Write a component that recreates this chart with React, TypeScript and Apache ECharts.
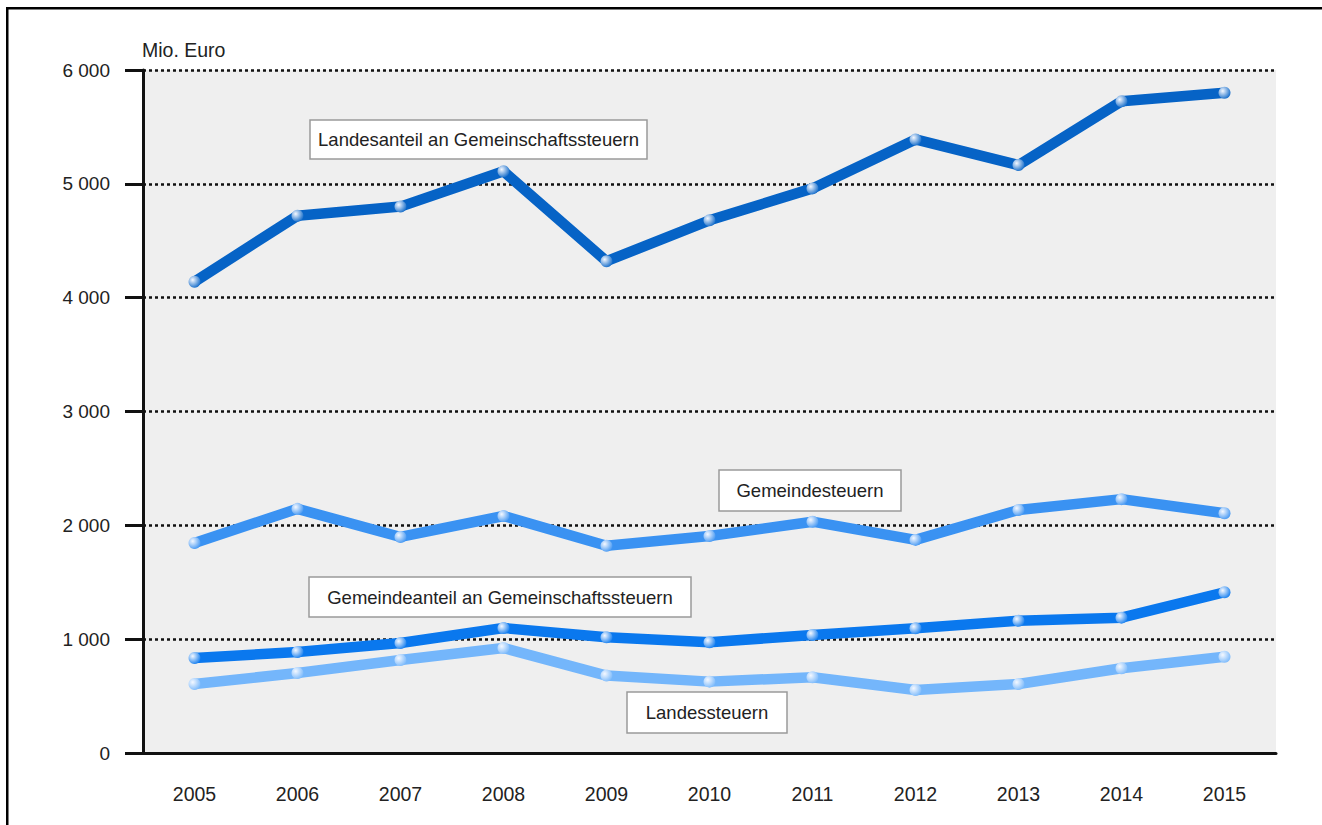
import React, { useEffect, useRef } from "react";
import * as echarts from "echarts";

const years = ["2005", "2006", "2007", "2008", "2009", "2010", "2011", "2012", "2013", "2014", "2015"];
const landesanteil = [4140, 4720, 4800, 5110, 4320, 4680, 4960, 5390, 5165, 5725, 5800];
const gemeindesteuern = [1845, 2145, 1898, 2082, 1820, 1906, 2032, 1872, 2135, 2230, 2106];
const gemeindeanteil = [835, 887, 966, 1098, 1016, 973, 1037, 1095, 1162, 1189, 1412];
const landessteuern = [606, 703, 817, 922, 680, 627, 665, 553, 606, 744, 846];

const seriesNames = [
  "Landesanteil an Gemeinschaftssteuern",
  "Gemeindesteuern",
  "Gemeindeanteil an Gemeinschaftssteuern",
  "Landessteuern",
];
const seriesColors = ["#0663c6", "#3a92f2", "#0a78ee", "#74b6fb"];
const unitLabel = "Mio. Euro";

const FONT = "'Liberation Sans', Arial, sans-serif";

function makeSeries(name: string, data: number[], color: string) {
  return {
    type: "line",
    name,
    data,
    symbol: "circle",
    symbolSize: 12,
    showAllSymbol: true,
    lineStyle: { color, width: 10.5, cap: "round", join: "round" },
    itemStyle: {
      color: new echarts.graphic.RadialGradient(0.35, 0.35, 0.75, [
        { offset: 0, color: "#f4f8ff" },
        { offset: 1, color },
      ]),
      borderWidth: 0,
    },
  };
}

function labelBox(text: string, x: number, y: number, w: number, h: number) {
  return {
    type: "group",
    x,
    y,
    z: 100,
    children: [
      {
        type: "rect",
        shape: { x: 0, y: 0, width: w, height: h },
        style: { fill: "#ffffff", stroke: "#9a9a9a", lineWidth: 1.5 },
      },
      {
        type: "text",
        x: w / 2,
        y: h / 2,
        style: {
          text,
          fill: "#222222",
          font: `18.5px ${FONT}`,
          align: "center",
          verticalAlign: "middle",
        },
      },
    ],
  };
}

export default function App() {
  const ref = useRef<HTMLDivElement>(null);
  useEffect(() => {
    if (!ref.current) return;
    const chart = echarts.init(ref.current, undefined, { renderer: "svg" });
    chart.setOption({
      animation: false,
      backgroundColor: "#ffffff",
      textStyle: { fontFamily: FONT },
      grid: {
        left: 143,
        right: 46,
        top: 70,
        bottom: 72,
        show: true,
        backgroundColor: "#efefef",
        borderWidth: 0,
      },
      xAxis: {
        type: "category",
        data: years,
        boundaryGap: true,
        axisLine: { lineStyle: { color: "#111", width: 3 } },
        axisTick: { alignWithLabel: true, length: 15, lineStyle: { color: "#111", width: 3 } },
        axisLabel: { color: "#222", fontSize: 19.5, fontFamily: FONT, margin: 31 },
        splitLine: { show: false },
      },
      yAxis: {
        type: "value",
        min: 0,
        max: 6000,
        interval: 1000,
        axisLine: { show: true, lineStyle: { color: "#111", width: 3 } },
        axisTick: { show: true, length: 18, lineStyle: { color: "#111", width: 3 } },
        axisLabel: {
          color: "#222",
          fontSize: 19,
          fontFamily: FONT,
          margin: 33,
          formatter: (v: number) => String(v).replace(/\B(?=(\d{3})+(?!\d))/g, " "),
        },
        splitLine: { show: true, lineStyle: { color: "#111", width: 2.5, type: [3, 3] } },
      },
      series: [
        makeSeries(seriesNames[0], landesanteil, seriesColors[0]),
        makeSeries(seriesNames[1], gemeindesteuern, seriesColors[1]),
        makeSeries(seriesNames[2], gemeindeanteil, seriesColors[2]),
        makeSeries(seriesNames[3], landessteuern, seriesColors[3]),
      ],
      graphic: [
        { type: "rect", shape: { x: 6, y: 7, width: 1340, height: 2.5 }, style: { fill: "#000" } },
        { type: "rect", shape: { x: 6, y: 7, width: 2.5, height: 830 }, style: { fill: "#000" } },
        {
          type: "text",
          x: 142,
          y: 50,
          style: { text: unitLabel, fill: "#222", font: `19.5px ${FONT}`, verticalAlign: "middle" },
        },
        labelBox(seriesNames[0], 310, 120, 337, 39),
        labelBox(seriesNames[1], 719, 470, 182, 41),
        labelBox(seriesNames[2], 309, 577, 382, 40),
        labelBox(seriesNames[3], 627, 692, 160, 41),
      ],
    });
    return () => chart.dispose();
  }, []);
  return (
    <div
      ref={ref}
      style={{ position: "absolute", left: 0, top: 0, width: 1322, height: 825, overflow: "hidden" }}
    />
  );
}
